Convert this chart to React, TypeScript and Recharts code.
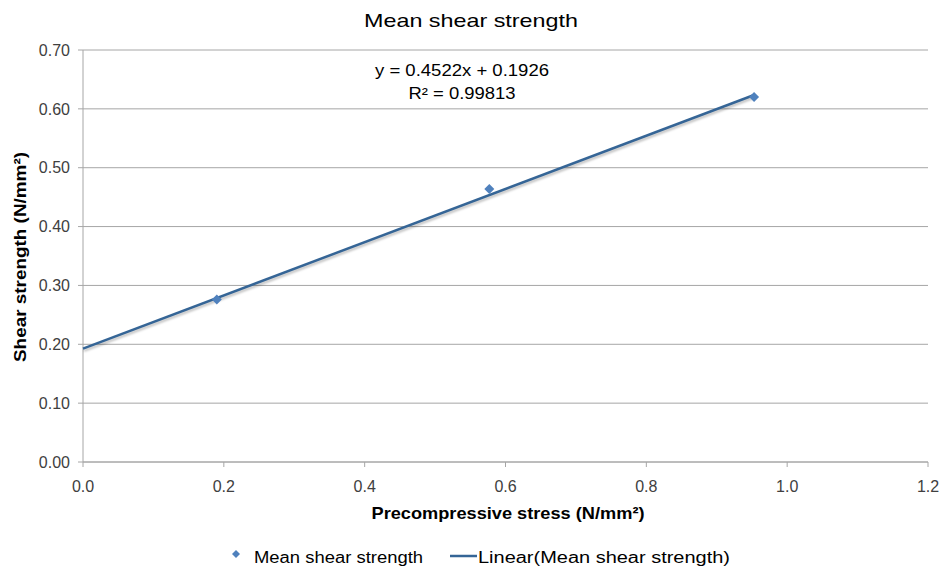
import React from 'react';
import { ScatterChart, Scatter, XAxis, YAxis, CartesianGrid, Legend, Customized } from 'recharts';

const stressX = [0.19, 0.577, 0.953];
const shearY = [0.276, 0.464, 0.62];
const trendX = [0, 0.953];
const trendY = [0.1926, 0.6236];
const xTicks = [0, 0.2, 0.4, 0.6, 0.8, 1.0, 1.2];
const yTicks = [0, 0.1, 0.2, 0.3, 0.4, 0.5, 0.6, 0.7];
const equationLines = ['y = 0.4522x + 0.1926', 'R² = 0.99813'];
const seriesNames = ['Mean shear strength', 'Linear(Mean shear strength)'];

const points = stressX.map((x, i) => ({ x, y: shearY[i] }));
const trend = trendX.map((x, i) => ({ x, y: trendY[i] }));

const FONT = '"Liberation Sans", Arial, sans-serif';
const POINT = '#4f81bd';
const TREND = '#356596';

const Diamond = (props: any) => {
  const { cx, cy } = props;
  if (cx == null || cy == null) return null;
  const r = 5;
  return <polygon points={`${cx},${cy - r} ${cx + r},${cy} ${cx},${cy + r} ${cx - r},${cy}`} fill={POINT} />;
};

const NoShape = () => null;

const Texts = () => (
  <g style={{ fontFamily: FONT }}>
    <text x={471} y={27} textAnchor="middle" fontSize={19} fill="#000" textLength={214} lengthAdjust="spacingAndGlyphs">Mean shear strength</text>
    <text x={462} y={76} textAnchor="middle" fontSize={16} fill="#000" textLength={174} lengthAdjust="spacingAndGlyphs">{equationLines[0]}</text>
    <text x={462} y={99} textAnchor="middle" fontSize={16} fill="#000" textLength={107} lengthAdjust="spacingAndGlyphs">{equationLines[1]}</text>
    <text x={508} y={519} textAnchor="middle" fontSize={17} fontWeight="bold" fill="#000" textLength={273} lengthAdjust="spacingAndGlyphs">Precompressive stress (N/mm²)</text>
    <text x={26} y={257} transform="rotate(-90 26 257)" textAnchor="middle" fontSize={17} fontWeight="bold" fill="#000" textLength={210} lengthAdjust="spacingAndGlyphs">Shear strength (N/mm²)</text>
  </g>
);

const LegendContent = () => (
  <svg width={939} height={29} style={{ display: 'block', fontFamily: FONT }}>
    <polygon points="236,8 240,12 236,16 232,12" fill={POINT} />
    <text x={254} y={21} fontSize={16} fill="#000" textLength={169} lengthAdjust="spacingAndGlyphs">{seriesNames[0]}</text>
    <line x1={450} y1={14} x2={477} y2={14} stroke={TREND} strokeWidth={2.5} />
    <text x={478} y={21} fontSize={16} fill="#000" textLength={252} lengthAdjust="spacingAndGlyphs">{seriesNames[1]}</text>
  </svg>
);

export default function App() {
  return (
    <div style={{ position: 'absolute', left: 0, top: 0, width: 939, height: 571, background: '#fff' }}>
      <style>{`.trend path { filter: drop-shadow(1px 2px 1px rgba(0,0,0,0.25)); } .recharts-surface { overflow: visible; }`}</style>
      <ScatterChart width={939} height={571} margin={{ top: 50, right: 11, left: 0, bottom: 0 }} style={{ overflow: 'visible' }}>
        <CartesianGrid vertical={false} stroke="#a6a6a6" strokeWidth={1} />
        <XAxis
          type="number"
          dataKey="x"
          domain={[0, 1.2]}
          ticks={xTicks}
          tickFormatter={(v: number) => v.toFixed(1)}
          stroke="#a6a6a6"
          tickSize={5}
          tickMargin={14}
          tick={{ fill: '#404040', fontSize: 16, fontFamily: FONT }}
          height={109}
          interval={0}
        />
        <YAxis
          type="number"
          dataKey="y"
          domain={[0, 0.7]}
          ticks={yTicks}
          tickFormatter={(v: number) => v.toFixed(2)}
          stroke="#a6a6a6"
          tickSize={5}
          tickMargin={8}
          tick={{ fill: '#404040', fontSize: 16, fontFamily: FONT }}
          width={83}
          interval={0}
        />
        <Scatter
          name={seriesNames[1]}
          data={trend}
          line={{ stroke: TREND, strokeWidth: 2.5 }}
          shape={NoShape}
          className="trend"
          isAnimationActive={false}
        />
        <Scatter name={seriesNames[0]} data={points} shape={Diamond} isAnimationActive={false} />
        <Legend
          layout="horizontal"
          verticalAlign="middle"
          align="center"
          content={LegendContent}
          wrapperStyle={{ top: 542, left: 0, width: 939, height: 29 }}
        />
        <Customized component={Texts} />
      </ScatterChart>
    </div>
  );
}
